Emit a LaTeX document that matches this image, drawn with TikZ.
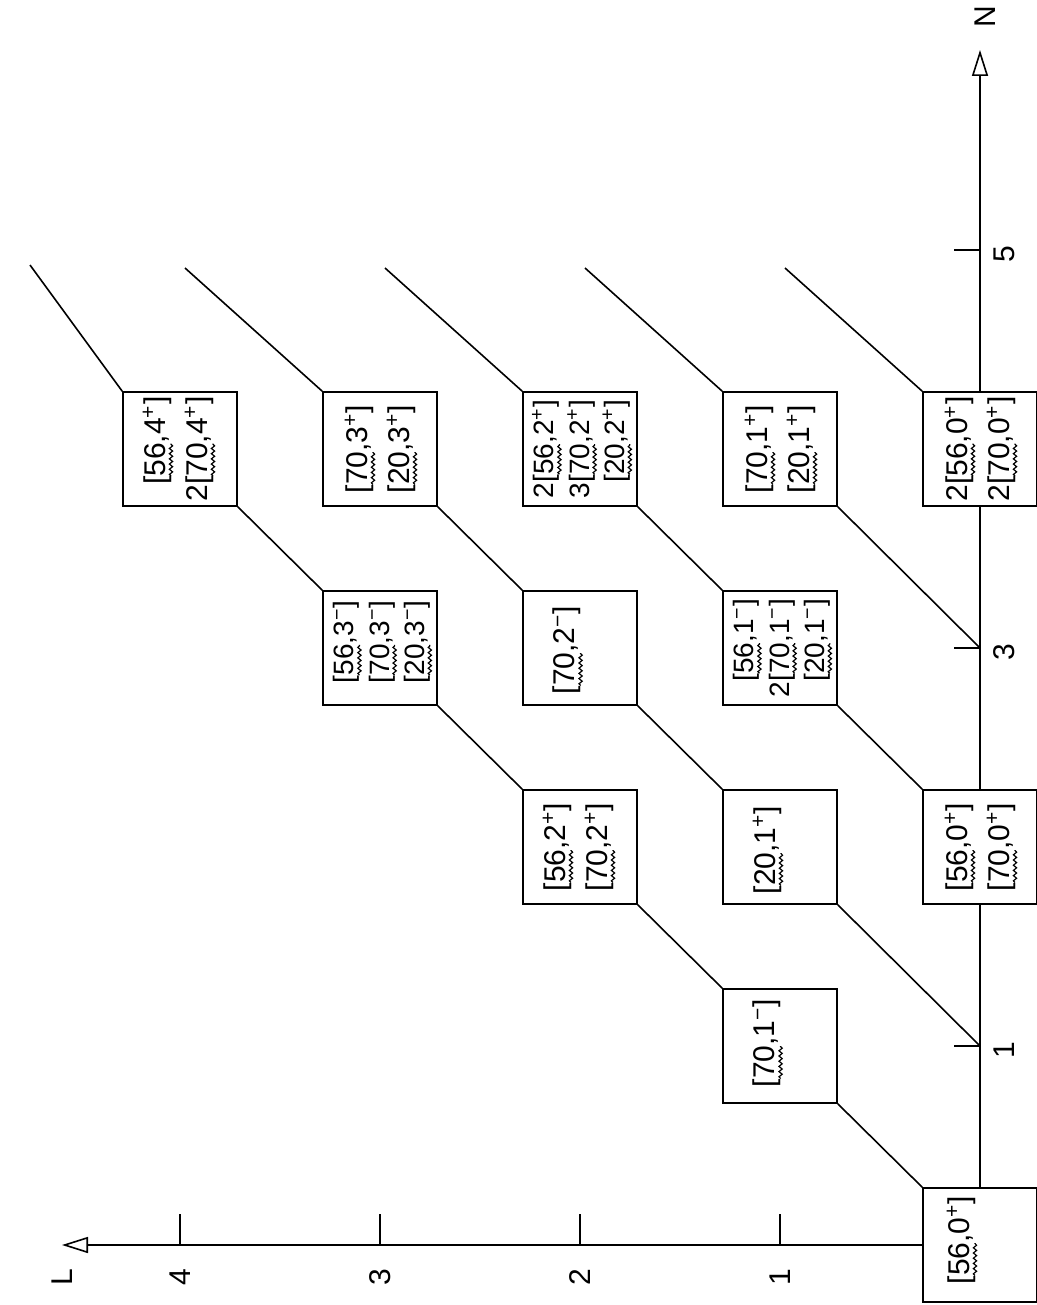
\documentclass[tikz,border=0pt]{standalone}
\usepackage{fontspec}
\setmainfont{Liberation Sans}
\usetikzlibrary{arrows.meta,decorations.pathmorphing}
\newsavebox\wvbox
\newlength\wvlen
\newcommand\wv[1]{\sbox\wvbox{#1}\setlength\wvlen{\wd\wvbox}\usebox\wvbox\llap{\tikz[baseline=0pt]\draw[line width=0.6pt,decorate,decoration={snake,amplitude=0.8pt,segment length=2.6pt}] (0.5pt,-2.8pt) -- (\wvlen,-2.8pt);}}
\newcommand\sgp{\textsuperscript{+}}
\newcommand\sgm{\textsuperscript{−}}
\newcommand\tb[1]{\begin{tabular}{@{}r@{}l@{}}#1\end{tabular}}
\begin{document}
\begin{tikzpicture}[x=0.5pt,y=-0.5pt,
  bx/.style={draw, fill=white, line width=0.8pt, minimum size=57pt, inner sep=0pt},
  lab/.style={rotate=90, font=\fontsize{15}{21}\selectfont, inner sep=0pt},
  labt/.style={rotate=90, font=\fontsize{14}{17.6}\selectfont, inner sep=0pt},
  ln/.style={line width=0.8pt},
  ax/.style={line width=0.8pt, -{Triangle[open,length=13pt,width=8pt]}},
  axl/.style={rotate=90, font=\fontsize{15}{17}\selectfont, inner sep=0pt}]
\useasboundingbox (0,0) rectangle (1037,1305);
% axis coordinates
\coordinate (o) at (980,1245);
\coordinate (ntip) at (980,50);
\coordinate (ltip) at (62,1245);
\coordinate (n1) at (980,1046);
\coordinate (n3) at (980,648);
\coordinate (n5) at (980,250);
\coordinate (n1t) at (954,1046);
\coordinate (n3t) at (954,648);
\coordinate (n5t) at (954,250);
\coordinate (l1) at (780,1245);
\coordinate (l2) at (580,1245);
\coordinate (l3) at (380,1245);
\coordinate (l4) at (180,1245);
\coordinate (l1t) at (780,1214);
\coordinate (l2t) at (580,1214);
\coordinate (l3t) at (380,1214);
\coordinate (l4t) at (180,1214);
% axes
\draw[ax] (o) -- (ntip);
\draw[ax] (o) -- (ltip);
\draw[ln] (n1) -- (n1t) (n3) -- (n3t) (n5) -- (n5t);
\draw[ln] (l1) -- (l1t) (l2) -- (l2t) (l3) -- (l3t) (l4) -- (l4t);
\node[axl] (nlab) at (985,17) {N};
\node[axl] (llab) at (62,1277) {L};
\node[axl] (nl1) at (1004,1050) {1};
\node[axl] (nl3) at (1004,652) {3};
\node[axl] (nl5) at (1004,254) {5};
\node[axl] (ll1) at (780,1277) {1};
\node[axl] (ll2) at (580,1277) {2};
\node[axl] (ll3) at (380,1277) {3};
\node[axl] (ll4) at (180,1277) {4};
% boxes: b<L><N>
\node[bx] (b00) at (980,1245) {};
\node[bx] (b11) at (780,1046) {};
\node[bx] (b22) at (580,847) {};
\node[bx] (b33) at (380,648) {};
\node[bx] (b44) at (180,449) {};
\node[bx] (b02) at (980,847) {};
\node[bx] (b12) at (780,847) {};
\node[bx] (b23) at (580,648) {};
\node[bx] (b34) at (380,449) {};
\node[bx] (b13) at (780,648) {};
\node[bx] (b24) at (580,449) {};
\node[bx] (b14) at (780,449) {};
\node[bx] (b04) at (980,449) {};
% texts
\node[lab] (t00) at (962,1240) {[\wv{56},0\sgp]};
\node[lab] (t11) at (768,1043) {[\wv{70},1\sgm]};
\node[lab] (t22) at (578,847) {\tb{&[\wv{56},2\sgp]\\ &[\wv{70},2\sgp]}};
\node[labt] (t33) at (382,642) {\tb{&[\wv{56},3\sgm]\\ &[\wv{70},3\sgm]\\ &[\wv{20},3\sgm]}};
\node[lab] (t44) at (178,449) {\tb{&[\wv{56},4\sgp]\\ 2&[\wv{70},4\sgp]}};
\node[lab] (t02) at (980,847) {\tb{&[\wv{56},0\sgp]\\ &[\wv{70},0\sgp]}};
\node[lab] (t12) at (768,850) {[\wv{20},1\sgp]};
\node[lab] (t23) at (568,650) {[\wv{70},2\sgm]};
\node[lab] (t34) at (380,449) {\tb{&[\wv{70},3\sgp]\\ &[\wv{20},3\sgp]}};
\node[labt] (t13) at (782,648) {\tb{&[\wv{56},1\sgm]\\ 2&[\wv{70},1\sgm]\\ &[\wv{20},1\sgm]}};
\node[labt] (t24) at (582,449) {\tb{2&[\wv{56},2\sgp]\\ 3&[\wv{70},2\sgp]\\ &[\wv{20},2\sgp]}};
\node[lab] (t14) at (780,449) {\tb{&[\wv{70},1\sgp]\\ &[\wv{20},1\sgp]}};
\node[lab] (t04) at (980,449) {\tb{2&[\wv{56},0\sgp]\\ 2&[\wv{70},0\sgp]}};
% free ends at top
\coordinate (eA) at (30,265);
\coordinate (eB) at (185,268);
\coordinate (eC) at (385,268);
\coordinate (eD) at (585,268);
\coordinate (eE) at (785,268);
% chains
\draw[ln] (b00.north west) -- (b11.south east);
\draw[ln] (b11.north west) -- (b22.south east);
\draw[ln] (b22.north west) -- (b33.south east);
\draw[ln] (b33.north west) -- (b44.south east);
\draw[ln] (b44.north west) -- (eA);
\draw[ln] (n1) -- (b12.south east);
\draw[ln] (b12.north west) -- (b23.south east);
\draw[ln] (b23.north west) -- (b34.south east);
\draw[ln] (b34.north west) -- (eB);
\draw[ln] (b02.north west) -- (b13.south east);
\draw[ln] (b13.north west) -- (b24.south east);
\draw[ln] (b24.north west) -- (eC);
\draw[ln] (n3) -- (b14.south east);
\draw[ln] (b14.north west) -- (eD);
\draw[ln] (b04.north west) -- (eE);
\end{tikzpicture}
\end{document}
